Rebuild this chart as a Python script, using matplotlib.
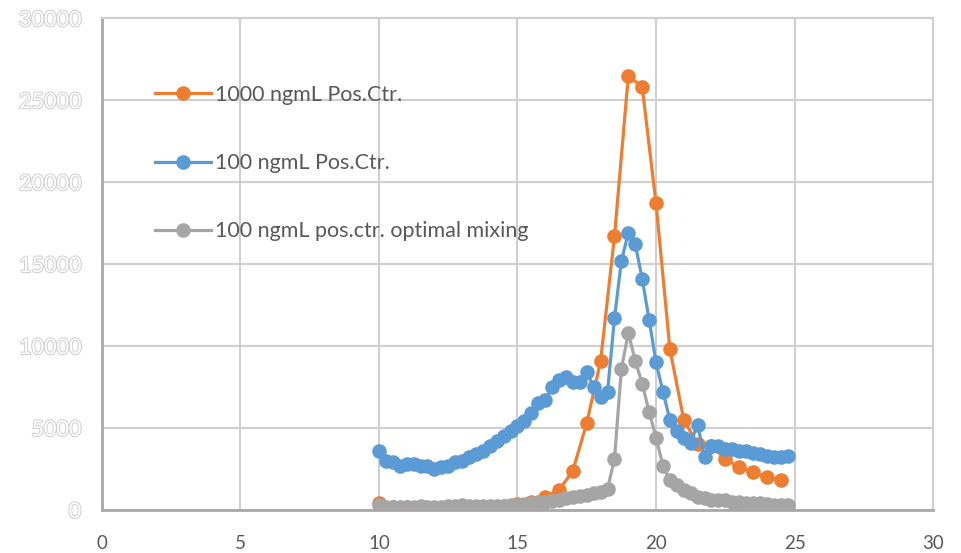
import numpy as np
import matplotlib.pyplot as plt
import matplotlib.patheffects as pe

# Fluorescence readings per fraction
x_fine = np.arange(10, 25, 0.25)
x_coarse = np.arange(10, 25, 0.5)

pos_1000 = [400, 200, 150, 100, 50, 100, 150, 150, 200, 250, 350, 500,
            800, 1200, 2400, 5300, 9100, 16700, 26500, 25800, 18700, 9800,
            5500, 4000, 3900, 3100, 2600, 2300, 2000, 1800]

pos_100 = [3600, 3000, 2900, 2700, 2800, 2800, 2700, 2700, 2500, 2600,
           2700, 2900, 3000, 3200, 3400, 3600, 3900, 4200, 4500, 4800,
           5100, 5400, 5900, 6500, 6700, 7500, 7900, 8100, 7800, 7800,
           8400, 7500, 6900, 7200, 11700, 15200, 16900, 16200, 14100, 11600,
           9000, 7200, 5500, 4800, 4400, 4100, 5200, 3200, 3900, 3900,
           3700, 3700, 3600, 3600, 3500, 3400, 3300, 3200, 3200, 3300]

pos_100_mix = [300, 200, 200, 200, 200, 200, 250, 200, 200, 200,
               250, 250, 300, 250, 250, 250, 250, 250, 250, 300,
               300, 350, 400, 450, 500, 550, 600, 700, 800, 850,
               900, 1000, 1100, 1300, 3100, 8600, 10800, 9100, 7700, 6000,
               4400, 2700, 1800, 1500, 1200, 1000, 800, 700, 600, 600,
               600, 500, 500, 400, 400, 400, 350, 300, 300, 300]

x_ticks = [0, 5, 10, 15, 20, 25, 30]
y_ticks = [0, 5000, 10000, 15000, 20000, 25000, 30000]

fig = plt.figure(figsize=(9.61, 5.53), dpi=100)
ax = fig.add_axes([0.106, 0.078, 0.865, 0.889])

style = dict(lw=2.3, marker='o', ms=10.5, markeredgewidth=0)
ax.plot(x_coarse, pos_1000, color='#ED7D31', label='1000 ngmL Pos.Ctr.', zorder=3, **style)
ax.plot(x_fine, pos_100, color='#5B9BD5', label='100 ngmL Pos.Ctr.', zorder=4, **style)
ax.plot(x_fine, pos_100_mix, color='#A5A5A5', label='100 ngmL pos.ctr. optimal mixing', zorder=5, **style)

ax.set_xlim(0, 30)
ax.set_ylim(0, 30000)
ax.set_xticks(x_ticks)
ax.set_yticks(y_ticks)
ax.grid(True, color='#CFCFCF', lw=1.5)
ax.set_axisbelow(True)
ax.tick_params(length=0)

for side in ['top', 'right']:
    ax.spines[side].set_color('#CFCFCF')
    ax.spines[side].set_linewidth(1.5)
for side in ['left', 'bottom']:
    ax.spines[side].set_color('#A8A8A8')
    ax.spines[side].set_linewidth(2)

ax.set_xticklabels([str(t) for t in x_ticks], fontsize=13.5, color='#595959', family='Lato')
ax.tick_params(axis='x', pad=18)
ax.set_yticklabels([str(t) for t in y_ticks], fontsize=15.5, color='white', family='Lato')
ax.tick_params(axis='y', pad=15)
for lab in ax.get_yticklabels():
    lab.set_path_effects([pe.Stroke(linewidth=1.5, foreground='#D0D0D0'), pe.Normal()])

leg = ax.legend(loc='upper left', bbox_to_anchor=(0.064, 0.865), frameon=False,
                borderpad=0, borderaxespad=0, labelspacing=2.25,
                handlelength=2.6, handletextpad=0.2,
                prop={'family': 'Lato', 'size': 15.5})
for t in leg.get_texts():
    t.set_color('#595959')

fig.savefig('out.png', dpi=100, facecolor='white')
